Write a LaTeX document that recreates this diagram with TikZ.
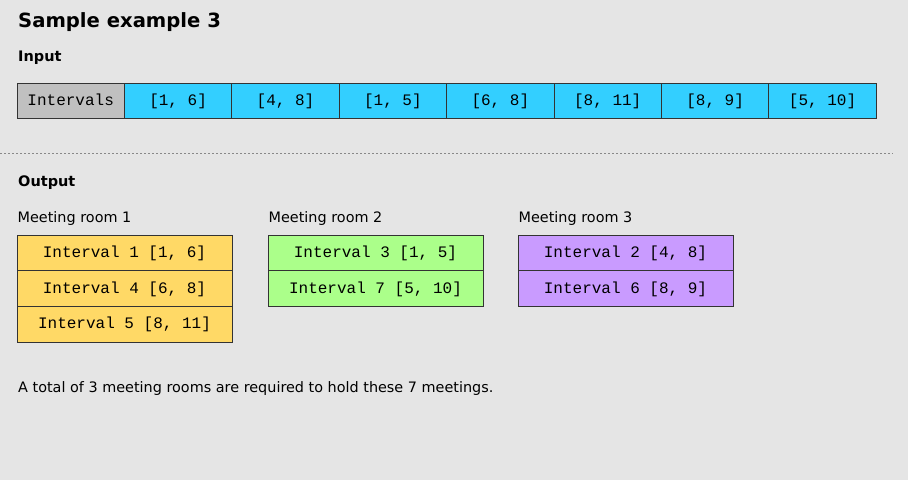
\documentclass[tikz,border=0pt]{standalone}
\usepackage{fontspec}
\setmainfont{DejaVu Sans}
\setmonofont{Liberation Mono}
\usetikzlibrary{positioning}
\definecolor{bgcol}{HTML}{E5E5E5}
\definecolor{cellgray}{HTML}{C0C0C0}
\definecolor{cellcyan}{HTML}{33CFFF}
\definecolor{roomyellow}{HTML}{FFD966}
\definecolor{roomgreen}{HTML}{ABFF8A}
\definecolor{roompurple}{HTML}{C99BFF}
\definecolor{edgecol}{HTML}{333333}
\definecolor{sepcol}{HTML}{888888}
\newcommand{\monotext}{\fontsize{16}{18}\selectfont\ttfamily}
\newcommand{\bodytext}{\fontsize{14.4}{17}\selectfont}
\begin{document}
\begin{tikzpicture}[
		x=1pt,
		y=-1pt,
		cell/.style={draw=edgecol,line width=1pt,fill=cellcyan,minimum width=107.4pt,minimum height=35.5pt,inner sep=0pt,outer sep=0pt,text height=9.2pt,text depth=0pt,font=\monotext},
		room/.style={draw=edgecol,line width=1pt,minimum width=215pt,minimum height=35.7pt,inner sep=0pt,outer sep=0pt,text height=9.2pt,text depth=0pt,font=\monotext},
		lbl/.style={anchor=base west,inner sep=0pt,font=\bodytext},
		heading/.style={anchor=base west,inner sep=0pt,font=\fontsize{14.5}{17}\selectfont\bfseries}
		]
		\fill[bgcol] (0,0) rectangle (908,480);
		\useasboundingbox (0,0) rectangle (908,480);
		% title and input row
		\node[anchor=base west,inner sep=0pt,font=\fontsize{19.6}{24}\selectfont\bfseries] (title) at (18,27) {Sample example 3};
		\node[heading] (inputhead) at (18,61) {Input};
		\node[cell,fill=cellgray,anchor=north west] (ivlabel) at (17,83) {Intervals};
		\node[cell,right=0pt of ivlabel] (iv1) {[1, 6]};
		\node[cell,right=0pt of iv1] (iv2) {[4, 8]};
		\node[cell,right=0pt of iv2] (iv3) {[1, 5]};
		\node[cell,right=0pt of iv3] (iv4) {[6, 8]};
		\node[cell,right=0pt of iv4] (iv5) {[8, 11]};
		\node[cell,right=0pt of iv5] (iv6) {[8, 9]};
		\node[cell,right=0pt of iv6] (iv7) {[5, 10]};
		% separator
		\coordinate (sepL) at (0,153.5);
		\coordinate (sepR) at (893,153.5);
		\draw[sepcol,line width=1pt,dash pattern=on 2pt off 2pt] (sepL) -- (sepR);
		% output
		\node[heading] (outputhead) at (18,186.5) {Output};
		\node[lbl] (room1) at (17.5,222.3) {Meeting room 1};
		\node[lbl] (room2) at (268.5,222.3) {Meeting room 2};
		\node[lbl] (room3) at (518.5,222.3) {Meeting room 3};
		\node[room,fill=roomyellow,anchor=north west] (r1a) at (17,235) {Interval 1 [1, 6]};
		\node[room,fill=roomyellow,below=0pt of r1a] (r1b) {Interval 4 [6, 8]};
		\node[room,fill=roomyellow,below=0pt of r1b] (r1c) {Interval 5 [8, 11]};
		\node[room,fill=roomgreen,anchor=north west] (r2a) at (268,235) {Interval 3 [1, 5]};
		\node[room,fill=roomgreen,below=0pt of r2a] (r2b) {Interval 7 [5, 10]};
		\node[room,fill=roompurple,anchor=north west] (r3a) at (518,235) {Interval 2 [4, 8]};
		\node[room,fill=roompurple,below=0pt of r3a] (r3b) {Interval 6 [8, 9]};
		\node[lbl] (total) at (18,392.3) {A total of 3 meeting rooms are required to hold these 7 meetings.};
		\end{tikzpicture}
\end{document}
